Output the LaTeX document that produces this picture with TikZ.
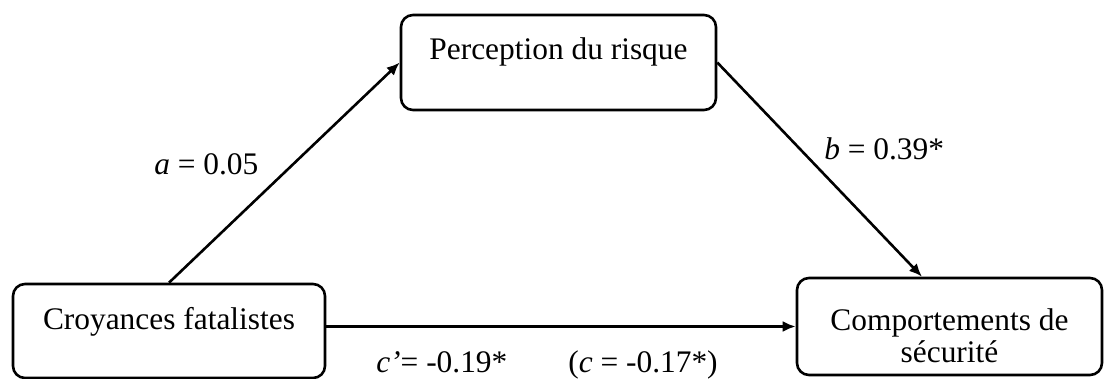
\documentclass[tikz,border=0pt]{standalone}
\usepackage{fontspec}
\setmainfont{Liberation Serif}
\usetikzlibrary{positioning,arrows.meta}
\newcommand\tightlines{\fontsize{15.7}{13.5}\selectfont\lineskiplimit=-20pt\relax}

\begin{document}
\begin{tikzpicture}[x=0.5pt,y=-0.5pt,>={Latex[length=6.5pt,width=5.5pt]},line width=1.3pt,
        box/.style={draw,rounded corners=6pt,inner sep=0pt,font=\fontsize{15.7}{18.8}\selectfont},
        coef/.style={inner sep=0pt,anchor=base west,font=\fontsize{15.7}{18.8}\selectfont}]
        \useasboundingbox (0,0) rectangle (1104,379);
        \node[box,minimum width=157.5pt,text height=22.5pt,text depth=25pt] (risk) at (558.5,62.5) {Perception du risque};
        \node[box,minimum width=156pt,text height=23pt,text depth=24pt] (fatal) at (169,331) {Croyances fatalistes};
        \node[box,minimum width=152.5pt,align=center,text height=42.5pt,text depth=6pt,
              font=\tightlines] (secu) at (949.5,326.5) {Comportements de\\[2.5pt]sécurité};
        \draw[->] (fatal.north) -- (risk.west);
        \draw[->] (risk.east) -- ([xshift=-13.75pt]secu.north);
        \draw[->] (fatal.east |- secu.west) -- (secu.west);
        \node[coef] (ca) at (153,175) {\textit{a} = 0.05};
        \node[coef] (cb) at (823,160) {\textit{b} = 0.39*};
        \node[coef] (cc) at (375,373) {\textit{c’}= -0.19*};
        \node[coef] (ct) at (567,373) {(\textit{c} = -0.17*)};
    \end{tikzpicture}
\end{document}
